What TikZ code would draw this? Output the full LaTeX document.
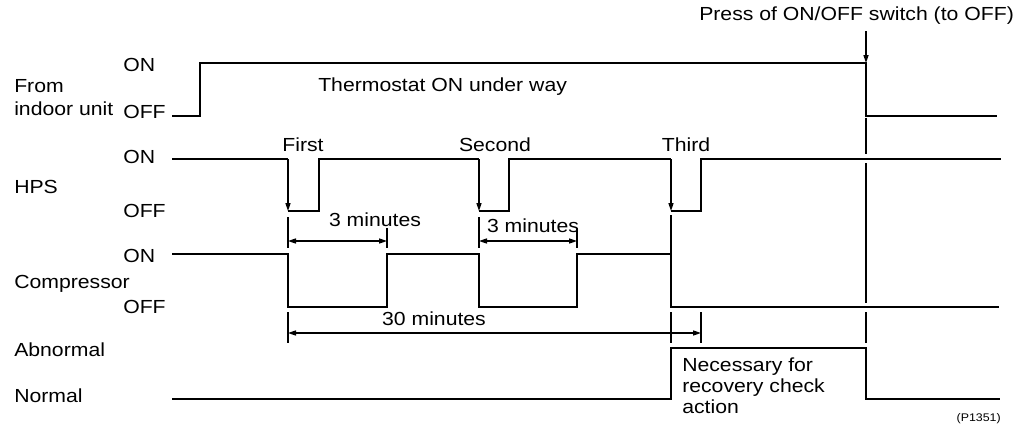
\documentclass[tikz,border=0pt]{standalone}
\usepackage{fontspec}
\setmainfont{Liberation Sans}[FakeStretch=1.12]
\usetikzlibrary{arrows.meta}
\begin{document}
\begin{tikzpicture}[x=0.75pt,y=-0.75pt,
  sig/.style={line width=1pt, line join=miter},
  thick seg/.style={line width=1.8pt},
  ext/.style={line width=1pt},
  tip/.style={-{Triangle[length=6pt,width=3.8pt]}, line width=1pt},
  dim/.style={{Triangle[length=6pt,width=3.8pt]}-{Triangle[length=6pt,width=3.8pt]}, line width=1pt},
  txt/.style={inner sep=0pt, font=\fontsize{14.2pt}{16pt}\selectfont},
  lbl/.style={txt, anchor=base west},
  ctr/.style={txt, anchor=base},
]
\useasboundingbox (0,0) rectangle (1031,436);

% ---- text labels ----
\node[lbl] (press) at (699,20) {Press of ON/OFF switch (to OFF)};
\node[lbl] (from) at (14,92) {From};
\node[lbl] (indoor) at (14,115) {indoor unit};
\node[lbl] (on1) at (123,71) {ON};
\node[lbl] (off1) at (123,118) {OFF};
\node[lbl] (thermo) at (318,91) {Thermostat ON under way};
\node[lbl] (on2) at (123,163) {ON};
\node[lbl] (hps) at (14,193) {HPS};
\node[lbl] (off2) at (123,217) {OFF};
\node[lbl] (on3) at (123,262) {ON};
\node[lbl] (comp) at (14,288) {Compressor};
\node[lbl] (off3) at (123,313) {OFF};
\node[lbl] (abn) at (14,356) {Abnormal};
\node[lbl] (nor) at (14,402) {Normal};
\node[ctr] (first) at (303,151) {First};
\node[ctr] (second) at (495,151) {Second};
\node[ctr] (third) at (686,151) {Third};
\node[ctr] (m3a) at (375,226) {3 minutes};
\node[ctr] (m3b) at (533,232) {3 minutes};
\node[ctr] (m30) at (434,325) {30 minutes};
\node[lbl] (nec1) at (682,371) {Necessary for};
\node[lbl] (nec2) at (682,392) {recovery check};
\node[lbl] (nec3) at (682,413) {action};
\node[inner sep=0pt, anchor=base east, font=\fontsize{8.3pt}{10pt}\selectfont] (pno) at (1001,421) {(P1351)};

% ---- From indoor unit ----
\draw[sig] (172,116) -- (200,116) -- (200,63) -- (866,63) -- (866,116) -- (997,116);
\coordinate (pressTop) at (866,31);
\coordinate (pressTip) at (866,63);
\draw[tip] (pressTop) -- (pressTip);

% ---- HPS ----
\draw[sig] (172,159) -- (288,159);
\draw[tip] (288,159) -- (288,211);
\draw[sig] (288,211) -- (319,211) -- (319,159) -- (479,159);
\draw[tip] (479,159) -- (479,211);
\draw[sig] (479,211) -- (509,211) -- (509,159) -- (671,159);
\draw[tip] (671,159) -- (671,211);
\draw[sig] (671,211) -- (701,211) -- (701,159) -- (1001,159);
\draw[thick seg] (349,159) -- (404,159);
\draw[thick seg] (541,159) -- (595,159);

% ---- Compressor ----
\draw[sig] (172,254) -- (288,254) -- (288,307) -- (387,307) -- (387,254) -- (479,254)
  -- (479,307) -- (577,307) -- (577,254) -- (671,254) -- (671,307) -- (999,307);

% ---- Abnormal / Normal ----
\draw[sig] (172,399) -- (671,399) -- (671,348) -- (866,348) -- (866,399) -- (1000,399);

% ---- reference line at switch press ----
\draw[ext] (866,118) -- (866,154);
\draw[ext] (866,163) -- (866,303);
\draw[ext] (866,312) -- (866,343);

% ---- extension lines ----
\draw[ext] (288,217) -- (288,248);
\draw[ext] (387,228) -- (387,248);
\draw[ext] (479,217) -- (479,248);
\draw[ext] (577,228) -- (577,248);
\draw[ext] (671,215) -- (671,254);
\draw[ext] (288,312) -- (288,343);
\draw[ext] (671,312) -- (671,343);
\draw[ext] (701,312) -- (701,343);

% ---- dimensions ----
\draw[dim] (288,241) -- (387,241);
\draw[dim] (479,241) -- (577,241);
\draw[dim] (288,333) -- (701,333);
\end{tikzpicture}
\end{document}
